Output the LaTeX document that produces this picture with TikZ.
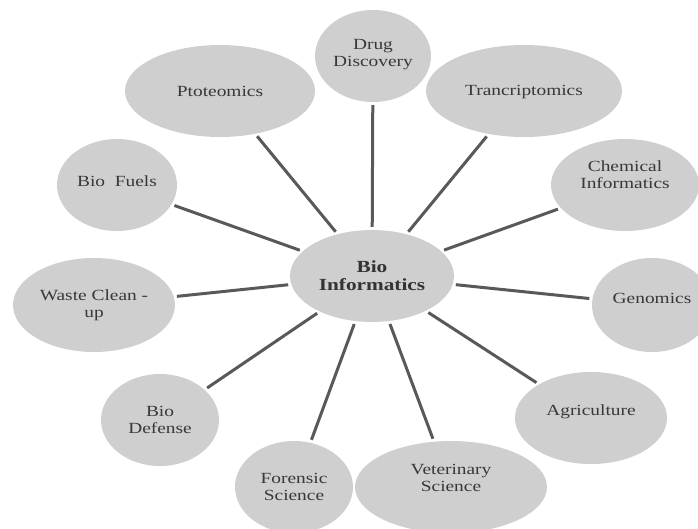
\documentclass[tikz,border=0pt]{standalone}
\usepackage{fontspec}
\setmainfont{Liberation Serif}[FakeStretch=1.25]
\usetikzlibrary{shapes.geometric}
\definecolor{bubble}{HTML}{CFCFCF}
\definecolor{linkc}{HTML}{595959}
\definecolor{txt}{HTML}{383838}
\newcommand\liftlines[2]{\raisebox{#1}[\height][\depth]{\begin{tabular}{@{}c@{}}#2\end{tabular}}}
\begin{document}
\begin{tikzpicture}[x=1pt,y=-1pt,
  bub/.style={ellipse,fill=bubble,draw=none,inner sep=0pt,align=center,
    text=txt,font=\fontsize{15.5}{17}\selectfont},
  hubstyle/.style={bub,text=black!80,font=\fontsize{17}{18}\selectfont\bfseries},
  link/.style={draw=linkc,line width=3pt,shorten <=3pt,shorten >=3pt}]
\useasboundingbox (0,0) rectangle (698,528);
\node[bub,minimum width=116pt,minimum height=92pt] (drug) at (373,56) {\liftlines{1pt}{Drug\\Discovery}};
\node[bub,minimum width=190pt,minimum height=92pt] (ptot) at (220,91) {Ptoteomics};
\node[bub,minimum width=196pt,minimum height=92pt] (tran) at (524,91) {\liftlines{-1pt}{Trancriptomics}};
\node[bub,minimum width=148pt,minimum height=92pt] (chem) at (625,185) {\liftlines{8pt}{Chemical\\Informatics}};
\node[bub,minimum width=120pt,minimum height=92pt] (fuel) at (117,185) {\liftlines{2pt}{Bio\ \ Fuels}};
\node[bub,minimum width=162pt,minimum height=94pt] (waste) at (94,305) {\liftlines{-1pt}{Waste Clean -\\up}};
\node[bub,minimum width=120pt,minimum height=94pt] (genom) at (652,305) {\liftlines{5pt}{Genomics}};
\node[bub,minimum width=152pt,minimum height=92pt] (agri) at (591,418) {\liftlines{6pt}{Agriculture}};
\node[bub,minimum width=192pt,minimum height=92pt] (vet) at (451,487) {\liftlines{7pt}{Veterinary\\Science}};
\node[bub,minimum width=118pt,minimum height=92pt] (foren) at (294,487) {Forensic\\Science};
\node[bub,minimum width=118pt,minimum height=92pt] (def) at (160,420) {Bio\\Defense};
\node[hubstyle,minimum width=164pt,minimum height=92pt] (hub) at (372,276) {Bio\\Informatics};
\foreach \n in {drug,ptot,tran,chem,fuel,waste,genom,agri,vet,foren,def}
  \draw[link] (hub) -- (\n);
\end{tikzpicture}
\end{document}
